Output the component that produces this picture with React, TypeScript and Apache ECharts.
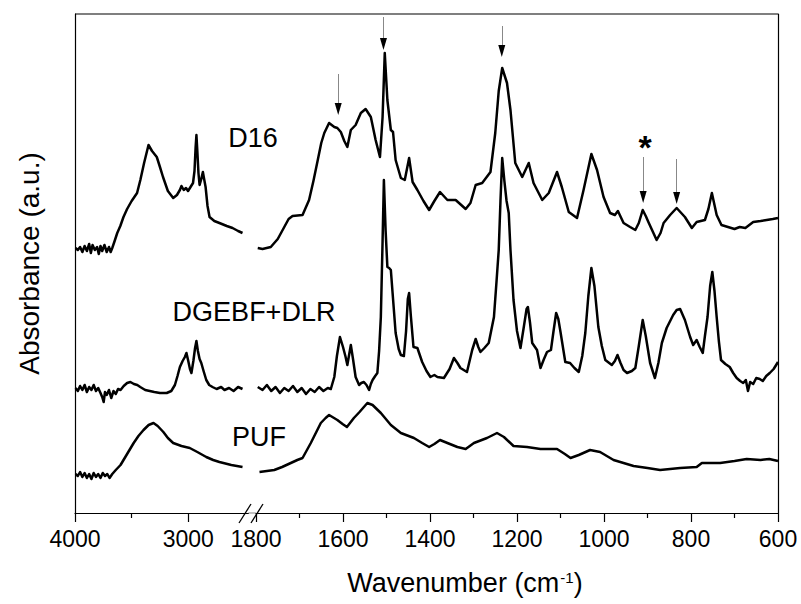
import React, { useEffect, useRef } from "react";
import * as echarts from "echarts";

type P = [number, number];

// tick values
const leftTickLabels = [4000, 3000];
const leftMinorTicks = [3500];

// ---------- D16 ----------
const d16High: P[] = [
  [3995, 283], [3975, 281], [3955, 284], [3935, 279], [3915, 285], [3895, 280], [3875, 287], [3860, 278],
  [3845, 286], [3825, 281], [3805, 284], [3790, 277], [3775, 285], [3760, 280], [3740, 286], [3720, 279],
  [3700, 284], [3685, 279], [3671, 283], [3650, 290], [3627, 298], [3600, 305], [3572, 314], [3540, 322],
  [3500, 330], [3452, 338], [3423, 351], [3390, 368], [3351, 386], [3320, 380], [3278, 374], [3250, 364],
  [3223, 354], [3180, 340], [3133, 333], [3100, 336], [3074, 341], [3060, 345], [3040, 341], [3020, 343],
  [3002, 340], [2980, 344], [2958, 348], [2945, 360], [2935, 384], [2928, 396], [2920, 380], [2910, 358],
  [2900, 346], [2885, 352], [2871, 359], [2860, 352], [2847, 344], [2830, 325], [2812, 314], [2770, 310],
  [2725, 308], [2660, 305], [2609, 303], [2560, 300], [2521, 298],
];
const d16Low: P[] = [
  [1796, 283], [1785, 282], [1766, 284], [1750, 292], [1735, 304], [1725, 312], [1716, 315], [1693, 316],
  [1678, 331], [1668, 350], [1658, 371], [1650, 388], [1643, 398], [1632, 408], [1620, 404], [1613, 403],
  [1605, 399], [1597, 390], [1590, 384], [1582, 401], [1571, 406], [1559, 418], [1548, 422], [1536, 414],
  [1525, 391], [1515, 374], [1509, 414], [1504, 478], [1498, 431], [1490, 401], [1485, 399], [1479, 371],
  [1467, 353], [1458, 351], [1448, 373], [1440, 349], [1429, 341], [1415, 330], [1402, 321], [1390, 330],
  [1377, 339], [1360, 331], [1341, 331], [1318, 322], [1307, 328], [1295, 346], [1280, 348], [1261, 359],
  [1250, 398], [1242, 440], [1234, 463], [1223, 448], [1215, 421], [1204, 368], [1188, 354], [1173, 368],
  [1162, 348], [1142, 331], [1127, 338], [1108, 359], [1097, 344], [1081, 319], [1062, 313], [1047, 341],
  [1029, 377], [1016, 361], [1001, 334], [986, 318], [975, 316], [968, 320], [955, 308], [940, 304],
  [928, 301], [920, 308], [911, 321], [904, 315], [898, 309], [879, 291], [870, 298], [863, 308],
  [848, 316], [833, 323], [814, 314], [798, 303], [787, 309], [768, 311], [760, 322], [752, 338],
  [741, 316], [730, 306], [715, 304], [700, 302], [688, 304], [675, 303], [657, 309], [640, 310],
  [626, 311], [612, 312], [600, 313],
];

// ---------- DGEBF+DLR ----------
const dgebfHigh: P[] = [
  [3995, 143], [3975, 140], [3955, 145], [3935, 141], [3915, 146], [3895, 139], [3875, 144], [3855, 141],
  [3835, 146], [3815, 140], [3795, 143], [3775, 138], [3760, 134], [3747, 129], [3735, 139], [3720, 136],
  [3700, 141], [3680, 133], [3660, 140], [3640, 137], [3620, 142], [3598, 141], [3570, 145], [3540, 148],
  [3511, 149], [3480, 147], [3450, 146], [3424, 144], [3380, 141], [3340, 140], [3300, 139], [3250, 138],
  [3190, 138], [3150, 140], [3118, 146], [3095, 155], [3074, 164], [3050, 170], [3030, 174], [3016, 178],
  [3000, 170], [2985, 162], [2972, 158], [2955, 170], [2940, 183], [2928, 190], [2915, 180], [2900, 172],
  [2885, 168], [2865, 160], [2841, 151], [2815, 146], [2786, 144], [2750, 142], [2710, 144], [2680, 141],
  [2640, 143], [2600, 140], [2560, 144], [2521, 142],
];
const dgebfLow: P[] = [
  [1796, 144], [1785, 141], [1775, 146], [1765, 140], [1755, 144], [1745, 138], [1735, 143], [1725, 140],
  [1715, 145], [1705, 139], [1695, 143], [1685, 137], [1675, 142], [1665, 139], [1655, 144], [1645, 140],
  [1635, 143], [1628, 142], [1620, 154], [1614, 175], [1607, 194], [1600, 184], [1594, 174], [1590, 166],
  [1586, 176], [1582, 186], [1577, 172], [1571, 154], [1563, 146], [1558, 148], [1552, 149], [1546, 146],
  [1540, 141], [1536, 147], [1532, 151], [1526, 155], [1521, 158], [1517, 180], [1513, 214], [1509, 290],
  [1506, 351], [1502, 300], [1498, 264], [1494, 263], [1490, 261], [1486, 238], [1479, 198], [1472, 182],
  [1467, 176], [1460, 175], [1455, 200], [1451, 232], [1448, 238], [1444, 215], [1438, 184], [1429, 183],
  [1418, 169], [1408, 160], [1399, 154], [1390, 156], [1383, 154], [1368, 153], [1355, 162], [1345, 173],
  [1337, 168], [1330, 163], [1315, 159], [1303, 181], [1295, 192], [1289, 184], [1284, 179], [1275, 183],
  [1265, 188], [1253, 214], [1247, 250], [1242, 281], [1238, 330], [1234, 373], [1229, 350], [1224, 330],
  [1219, 318], [1215, 281], [1208, 231], [1200, 200], [1192, 183], [1184, 205], [1178, 222], [1175, 224],
  [1170, 208], [1165, 188], [1154, 181], [1146, 163], [1138, 172], [1131, 179], [1122, 181], [1116, 200],
  [1110, 218], [1105, 212], [1100, 199], [1089, 169], [1078, 168], [1068, 163], [1058, 159], [1050, 175],
  [1043, 198], [1036, 235], [1029, 263], [1022, 245], [1013, 204], [1005, 185], [997, 171], [982, 166],
  [975, 170], [969, 176], [962, 168], [955, 161], [947, 158], [936, 160], [928, 163], [920, 185],
  [911, 211], [904, 195], [894, 168], [883, 153], [875, 168], [867, 188], [856, 203], [841, 216],
  [833, 221], [825, 222], [814, 211], [802, 194], [795, 186], [787, 191], [780, 184], [773, 178],
  [768, 195], [762, 214], [756, 245], [751, 259], [746, 240], [741, 214], [736, 190], [731, 171],
  [721, 167], [711, 164], [703, 158], [695, 153], [687, 150], [680, 148], [674, 151], [669, 140],
  [664, 149], [657, 147], [650, 153], [642, 152], [635, 150], [627, 155], [619, 158], [610, 162],
  [600, 169],
];

// ---------- PUF ----------
const pufHigh: P[] = [
  [3995, 57], [3975, 55], [3955, 59], [3935, 54], [3915, 58], [3895, 53], [3875, 57], [3855, 52],
  [3835, 58], [3815, 54], [3795, 57], [3775, 53], [3755, 58], [3735, 55], [3715, 57], [3695, 53],
  [3671, 57], [3640, 61], [3598, 66], [3540, 77], [3482, 88], [3440, 95], [3395, 101], [3350, 106],
  [3307, 108], [3270, 105], [3220, 99], [3180, 93], [3133, 88], [3060, 85], [2987, 83], [2920, 79],
  [2841, 74], [2780, 71], [2725, 69], [2620, 66], [2521, 64],
];
const pufLow: P[] = [
  [1792, 59], [1775, 60], [1758, 61], [1740, 64], [1720, 68], [1705, 71], [1693, 73], [1674, 88],
  [1651, 108], [1640, 113], [1632, 116], [1613, 111], [1601, 107], [1591, 104], [1575, 113], [1562, 119],
  [1552, 124], [1544, 128], [1532, 126], [1513, 118], [1490, 106], [1467, 98], [1437, 93], [1418, 88],
  [1402, 84], [1390, 87], [1377, 91], [1360, 88], [1337, 84], [1318, 82], [1299, 88], [1269, 93],
  [1246, 98], [1230, 94], [1208, 85], [1177, 84], [1146, 82], [1108, 82], [1090, 77], [1077, 73],
  [1058, 76], [1032, 81], [1009, 79], [978, 71], [932, 65], [900, 63], [871, 61], [825, 63],
  [787, 64], [775, 68], [733, 68], [700, 70], [672, 72], [640, 71], [620, 72], [600, 70],
];

// annotation arrows: [wavenumber, top value, tip value]
const arrows: [number, number, number][] = [
  [1611, 457, 416],
  [1507, 514, 481],
  [1235, 505, 474],
  [910, 374, 328],
  [833, 372, 327],
];

const FONT = "'Liberation Sans', Arial, Helvetica, sans-serif";

export default function App() {
  const ref = useRef<HTMLDivElement>(null);

  useEffect(() => {
    if (!ref.current) return;
    const chart = echarts.init(ref.current, undefined, { renderer: "svg" });

    const lineStyle = { color: "#000", width: 2.5, join: "round" };
    const mk = (data: P[], left: boolean, extra: any = {}) => ({
      type: "line",
      data,
      xAxisIndex: left ? 0 : 2,
      yAxisIndex: left ? 0 : 1,
      showSymbol: false,
      symbol: "none",
      lineStyle,
      silent: true,
      ...extra,
    });

    const axisLine = { show: true, lineStyle: { color: "#000", width: 1.2 } };
    const labelStyle = {
      color: "#000", fontSize: 23, fontFamily: FONT, margin: 14,
      formatter: (v: number) => String(v),
    };

    chart.setOption({
      animation: false,
      backgroundColor: "#fff",
      textStyle: { fontFamily: FONT },
      grid: [
        { left: 75, top: 14, width: 173.3, height: 499 },
        { left: 256, top: 14, width: 522, height: 499 },
      ],
      xAxis: [
        {
          type: "value", gridIndex: 0, min: 2470, max: 4000, inverse: true, position: "bottom",
          axisLine,
          axisTick: { show: true, length: 9, customValues: leftTickLabels, lineStyle: { color: "#000", width: 1.2 } },
          axisLabel: { ...labelStyle, customValues: leftTickLabels },
          splitLine: { show: false },
        },
        {
          type: "value", gridIndex: 0, min: 2470, max: 4000, inverse: true, position: "bottom",
          axisLine: { show: false },
          axisTick: { show: true, length: 5, customValues: leftMinorTicks, lineStyle: { color: "#000", width: 1.2 } },
          axisLabel: { show: false },
          splitLine: { show: false },
        },
        {
          type: "value", gridIndex: 1, min: 600, max: 1800, interval: 200, inverse: true, position: "bottom",
          axisLine,
          axisTick: { show: true, length: 9, lineStyle: { color: "#000", width: 1.2 } },
          minorTick: { show: true, splitNumber: 2, length: 5, lineStyle: { color: "#000", width: 1.2 } },
          axisLabel: labelStyle,
          splitLine: { show: false },
        },
      ],
      yAxis: [
        {
          type: "value", gridIndex: 0, min: 18, max: 517, position: "left",
          axisLine, axisTick: { show: false }, axisLabel: { show: false }, splitLine: { show: false },
          name: "Absorbance (a.u.)", nameLocation: "middle", nameGap: 32,
          nameTextStyle: { color: "#000", fontSize: 28, fontFamily: FONT },
        },
        {
          type: "value", gridIndex: 1, min: 18, max: 517, position: "right",
          axisLine, axisTick: { show: false }, axisLabel: { show: false }, splitLine: { show: false },
        },
      ],
      series: [
        mk(d16High, true),
        mk(d16Low, false, {
          markLine: {
            silent: true,
            symbol: ["none", "none"],
            label: { show: false },
            lineStyle: { color: "#888", width: 1, type: "solid" },
            data: arrows.map(([w, top, tip]) => [{ coord: [w, top] }, { coord: [w, tip + 6] }]),
          },
        }),
        mk(dgebfHigh, true),
        mk(dgebfLow, false, {
          markLine: {
            silent: true,
            symbol: ["none", "triangle"],
            symbolSize: [7, 12],
            label: { show: false },
            lineStyle: { color: "#000", width: 1, type: "solid" },
            data: arrows.map(([w, _top, tip]) => [{ coord: [w, tip + 7] }, { coord: [w, tip + 6] }]),
          },
        }),
        mk(pufHigh, true),
        mk(pufLow, false),
      ],
      graphic: [
        { type: "line", shape: { x1: 75, y1: 14, x2: 778, y2: 14 }, style: { stroke: "#000", lineWidth: 1.2 } },
        { type: "line", shape: { x1: 248.3, y1: 513, x2: 256, y2: 513 }, style: { stroke: "#999", lineWidth: 1.2 } },
        { type: "line", shape: { x1: 239, y1: 523, x2: 251, y2: 504 }, style: { stroke: "#000", lineWidth: 1.3 } },
        { type: "line", shape: { x1: 251, y1: 523, x2: 263, y2: 504 }, style: { stroke: "#000", lineWidth: 1.3 } },
        { type: "text", x: 253, y: 138, style: { text: "D16", fontSize: 27, fontFamily: FONT, fill: "#000", textAlign: "center", textVerticalAlign: "middle" } },
        { type: "text", x: 254, y: 312, style: { text: "DGEBF+DLR", fontSize: 27, fontFamily: FONT, fill: "#000", textAlign: "center", textVerticalAlign: "middle" } },
        { type: "text", x: 259, y: 437, style: { text: "PUF", fontSize: 27, fontFamily: FONT, fill: "#000", textAlign: "center", textVerticalAlign: "middle" } },
        { type: "text", x: 645, y: 147, style: { text: "*", fontSize: 34, fontWeight: "bold", fontFamily: FONT, fill: "#000", textAlign: "center", textVerticalAlign: "middle" } },
        {
          type: "text", x: 465, y: 583,
          style: {
            text: "Wavenumber (cm{sup|-1})",
            fontSize: 27, fontFamily: FONT, fill: "#000", textAlign: "center", textVerticalAlign: "middle",
            rich: { sup: { fontSize: 15, fontFamily: FONT, fill: "#000", verticalAlign: "top", padding: [0, 0, 12, 1] } },
          },
        },
      ],
    });

    return () => chart.dispose();
  }, []);

  return (
    <div
      ref={ref}
      style={{ position: "fixed", left: 0, top: 0, width: 801, height: 604, background: "#fff" }}
    />
  );
}
